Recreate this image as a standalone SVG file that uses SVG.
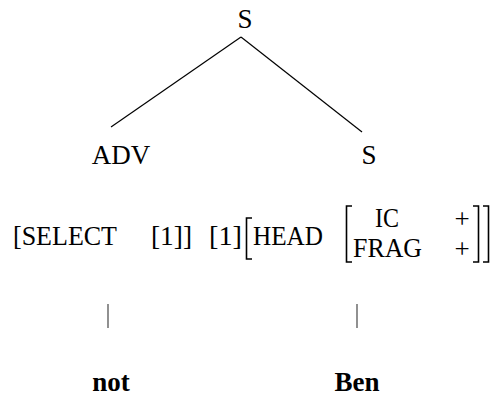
<svg xmlns="http://www.w3.org/2000/svg" width="496" height="398" viewBox="0 0 496 398">
<style>
.t{font-family:"Liberation Serif","Times New Roman",serif;font-size:27px;fill:#000}
.a{font-family:"Liberation Serif","Times New Roman",serif;font-size:28px;fill:#000}
.p{font-family:"Liberation Serif","Times New Roman",serif;font-size:27px;fill:#000}
.b{font-family:"Liberation Serif","Times New Roman",serif;font-size:27px;font-weight:bold;fill:#000}
.e{stroke:#000;stroke-width:1.2;fill:none}
.bar{stroke:#555;stroke-width:1.3;fill:none}
.br{stroke:#000;stroke-width:1.6;fill:none}
</style>
<rect width="496" height="398" fill="#fff"/>
<g id="connectors">
<line class="e" x1="241" y1="37" x2="111" y2="127"/>
<line class="e" x1="241" y1="37" x2="362" y2="132"/>
<line class="bar" x1="108" y1="304" x2="108" y2="328"/>
<line class="bar" x1="357" y1="304" x2="357" y2="328"/>
</g>
<g id="root"><text class="t" x="245" y="28" text-anchor="middle">S</text></g>
<g id="adv"><text class="t" x="121" y="164" text-anchor="middle">ADV</text></g>
<g id="s2"><text class="t" x="369" y="164" text-anchor="middle">S</text></g>
<g id="avm-adv">
<text class="a" x="13" y="245" textLength="104" lengthAdjust="spacingAndGlyphs">[SELECT</text>
<text class="a" x="151" y="245" textLength="41" lengthAdjust="spacingAndGlyphs">[1]]</text>
</g>
<g id="avm-s">
<text class="a" x="209" y="245" textLength="33" lengthAdjust="spacingAndGlyphs">[1]</text>
<path class="br" d="M252,218 H246.5 V259 H252"/>
<text class="a" x="253" y="245" textLength="70" lengthAdjust="spacingAndGlyphs">HEAD</text>
<path class="br" d="M352,206 H346.5 V262 H352"/>
<text class="a" x="375" y="227" textLength="24" lengthAdjust="spacingAndGlyphs">IC</text>
<text class="a" x="353" y="257" textLength="69" lengthAdjust="spacingAndGlyphs">FRAG</text>
<text class="p" x="462" y="228" text-anchor="middle">+</text>
<text class="p" x="462" y="258" text-anchor="middle">+</text>
<path class="br" d="M473,206 H478.5 V262 H473"/>
<path class="br" d="M483,206 H488.5 V262 H483"/>
</g>
<g id="not"><text class="b" x="111" y="391" text-anchor="middle">not</text></g>
<g id="ben"><text class="b" x="357" y="391" text-anchor="middle">Ben</text></g>
</svg>
